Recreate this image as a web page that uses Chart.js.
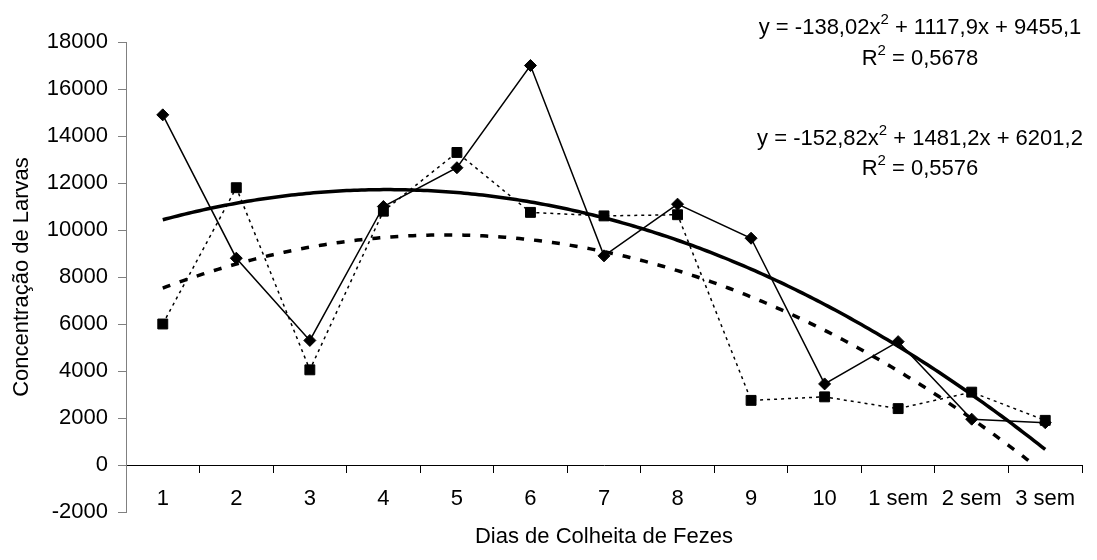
<!DOCTYPE html>
<html lang="pt-br">
<head>
    <meta charset="UTF-8">
    <title>Concentração de Larvas</title>
    <script src="https://cdn.jsdelivr.net/npm/chart.js"></script>
    <style>
        body { margin: 0; background: #fff; }
        #caixa { width: 1097px; height: 560px; }
    </style>
</head>
<body>
<div id="caixa"><canvas id="grafico"></canvas></div>
<script>
// dados
const dias = ['1', '2', '3', '4', '5', '6', '7', '8', '9', '10', '1 sem', '2 sem', '3 sem'];
const serieLosango = [14900, 8800, 5300, 11000, 12650, 17000, 8900, 11100, 9650, 3450, 5250, 1950, 1800];
const serieQuadrado = [6000, 11800, 4050, 10800, 13300, 10750, 10600, 10650, 2750, 2900, 2400, 3100, 1900];
const eixoY = [-2000, 0, 2000, 4000, 6000, 8000, 10000, 12000, 14000, 16000, 18000];

// coeficientes das linhas de tendencia (a, b, c) como aparecem no grafico
const tendenciaLosango = [-138.02, 1117.9, 9455.1];
const tendenciaQuadrado = [-152.82, 1481.2, 6201.2];
// o "^" marca o expoente 2
const equacoes = ['y = -138,02x^ + 1117,9x + 9455,1', 'R^ = 0,5678', 'y = -152,82x^ + 1481,2x + 6201,2', 'R^ = 0,5576'];

const tituloX = 'Dias de Colheita de Fezes';
const tituloY = 'Concentração de Larvas';

const fonte = '"Liberation Sans", Arial, sans-serif';

function pontos(valores) {
  return valores.map((v, i) => ({ x: i + 1, y: v }));
}

// curva da tendencia, cortada onde passa abaixo de zero
function curva(coef) {
  const lista = [];
  for (let x = 1; x <= 13.0001; x += 0.05) {
    const y = coef[0] * x * x + coef[1] * x + coef[2];
    if (y < 0) break;
    lista.push({ x: x, y: y });
  }
  return lista;
}

// escreve uma linha centrada, com o 2 do expoente menor e mais alto
function linhaComExpoente(ctx, texto, cx, cy) {
  const partes = texto.split('^');
  const normal = '22px ' + fonte;
  const pequeno = '15px ' + fonte;
  let largura = 0;
  partes.forEach((p, i) => {
    ctx.font = normal;
    largura += ctx.measureText(p).width;
    if (i < partes.length - 1) {
      ctx.font = pequeno;
      largura += ctx.measureText('2').width;
    }
  });
  let x = cx - largura / 2;
  ctx.textAlign = 'left';
  partes.forEach((p, i) => {
    ctx.font = normal;
    ctx.fillText(p, x, cy);
    x += ctx.measureText(p).width;
    if (i < partes.length - 1) {
      ctx.font = pequeno;
      ctx.fillText('2', x, cy - 8);
      x += ctx.measureText('2').width;
    }
  });
}

const textos = {
  id: 'textos',
  afterDraw(chart) {
    const ctx = chart.ctx;
    const area = chart.chartArea;
    ctx.save();
    ctx.fillStyle = '#000';
    ctx.font = '22px ' + fonte;
    ctx.textAlign = 'center';
    ctx.textBaseline = 'middle';
    ctx.fillText(tituloX, (area.left + area.right) / 2, 537);
    const alturas = [28, 59, 139, 169];
    equacoes.forEach((linha, i) => linhaComExpoente(ctx, linha, 920, alturas[i]));
    ctx.restore();
  }
};

new Chart(document.getElementById('grafico'), {
  type: 'line',
  data: {
    datasets: [
      {
        data: pontos(serieLosango),
        borderColor: '#000',
        borderWidth: 1.5,
        pointStyle: 'rectRot',
        pointRadius: 6,
        pointBackgroundColor: '#000',
        pointBorderColor: '#000',
        pointBorderWidth: 1
      },
      {
        data: pontos(serieQuadrado),
        borderColor: '#000',
        borderWidth: 1.5,
        borderDash: [3, 4],
        pointStyle: 'rect',
        pointRadius: 7,
        pointBackgroundColor: '#000',
        pointBorderColor: '#000',
        pointBorderWidth: 1
      },
      {
        data: curva(tendenciaLosango),
        borderColor: '#000',
        borderWidth: 3.5,
        pointRadius: 0
      },
      {
        data: curva(tendenciaQuadrado),
        borderColor: '#000',
        borderWidth: 3.5,
        borderDash: [8, 10],
        pointRadius: 0
      }
    ]
  },
  options: {
    responsive: true,
    maintainAspectRatio: false,
    animation: false,
    layout: { padding: { top: 42, right: 15, bottom: 48, left: 0 } },
    plugins: { legend: { display: false }, tooltip: { enabled: false } },
    scales: {
      x: {
        type: 'linear',
        position: { y: 0 },
        min: 0.5,
        max: 13.5,
        afterBuildTicks(scale) {
          scale.ticks = dias.map((d, i) => ({ value: i + 1 }));
        },
        ticks: {
          autoSkip: false,
          maxRotation: 0,
          padding: 14,
          color: '#000',
          font: { family: fonte, size: 22 },
          callback: (v) => dias[Math.round(v) - 1]
        },
        grid: { offset: true, drawOnChartArea: false, tickLength: 7, color: '#000' },
        border: { color: '#000', width: 1 }
      },
      y: {
        min: -2000,
        max: 18000,
        afterBuildTicks(scale) {
          scale.ticks = eixoY.map(v => ({ value: v }));
        },
        afterFit(scale) {
          scale.width = 126;
        },
        ticks: {
          padding: 10,
          color: '#000',
          font: { family: fonte, size: 22 },
          callback: (v) => String(v)
        },
        grid: { drawOnChartArea: false, tickLength: 8, color: '#808080' },
        border: { color: '#808080', width: 1 },
        title: {
          display: true,
          text: tituloY,
          color: '#000',
          font: { family: fonte, size: 22 },
          padding: { top: 9, bottom: 0 }
        }
      }
    }
  },
  plugins: [textos]
});
</script>
</body>
</html>
